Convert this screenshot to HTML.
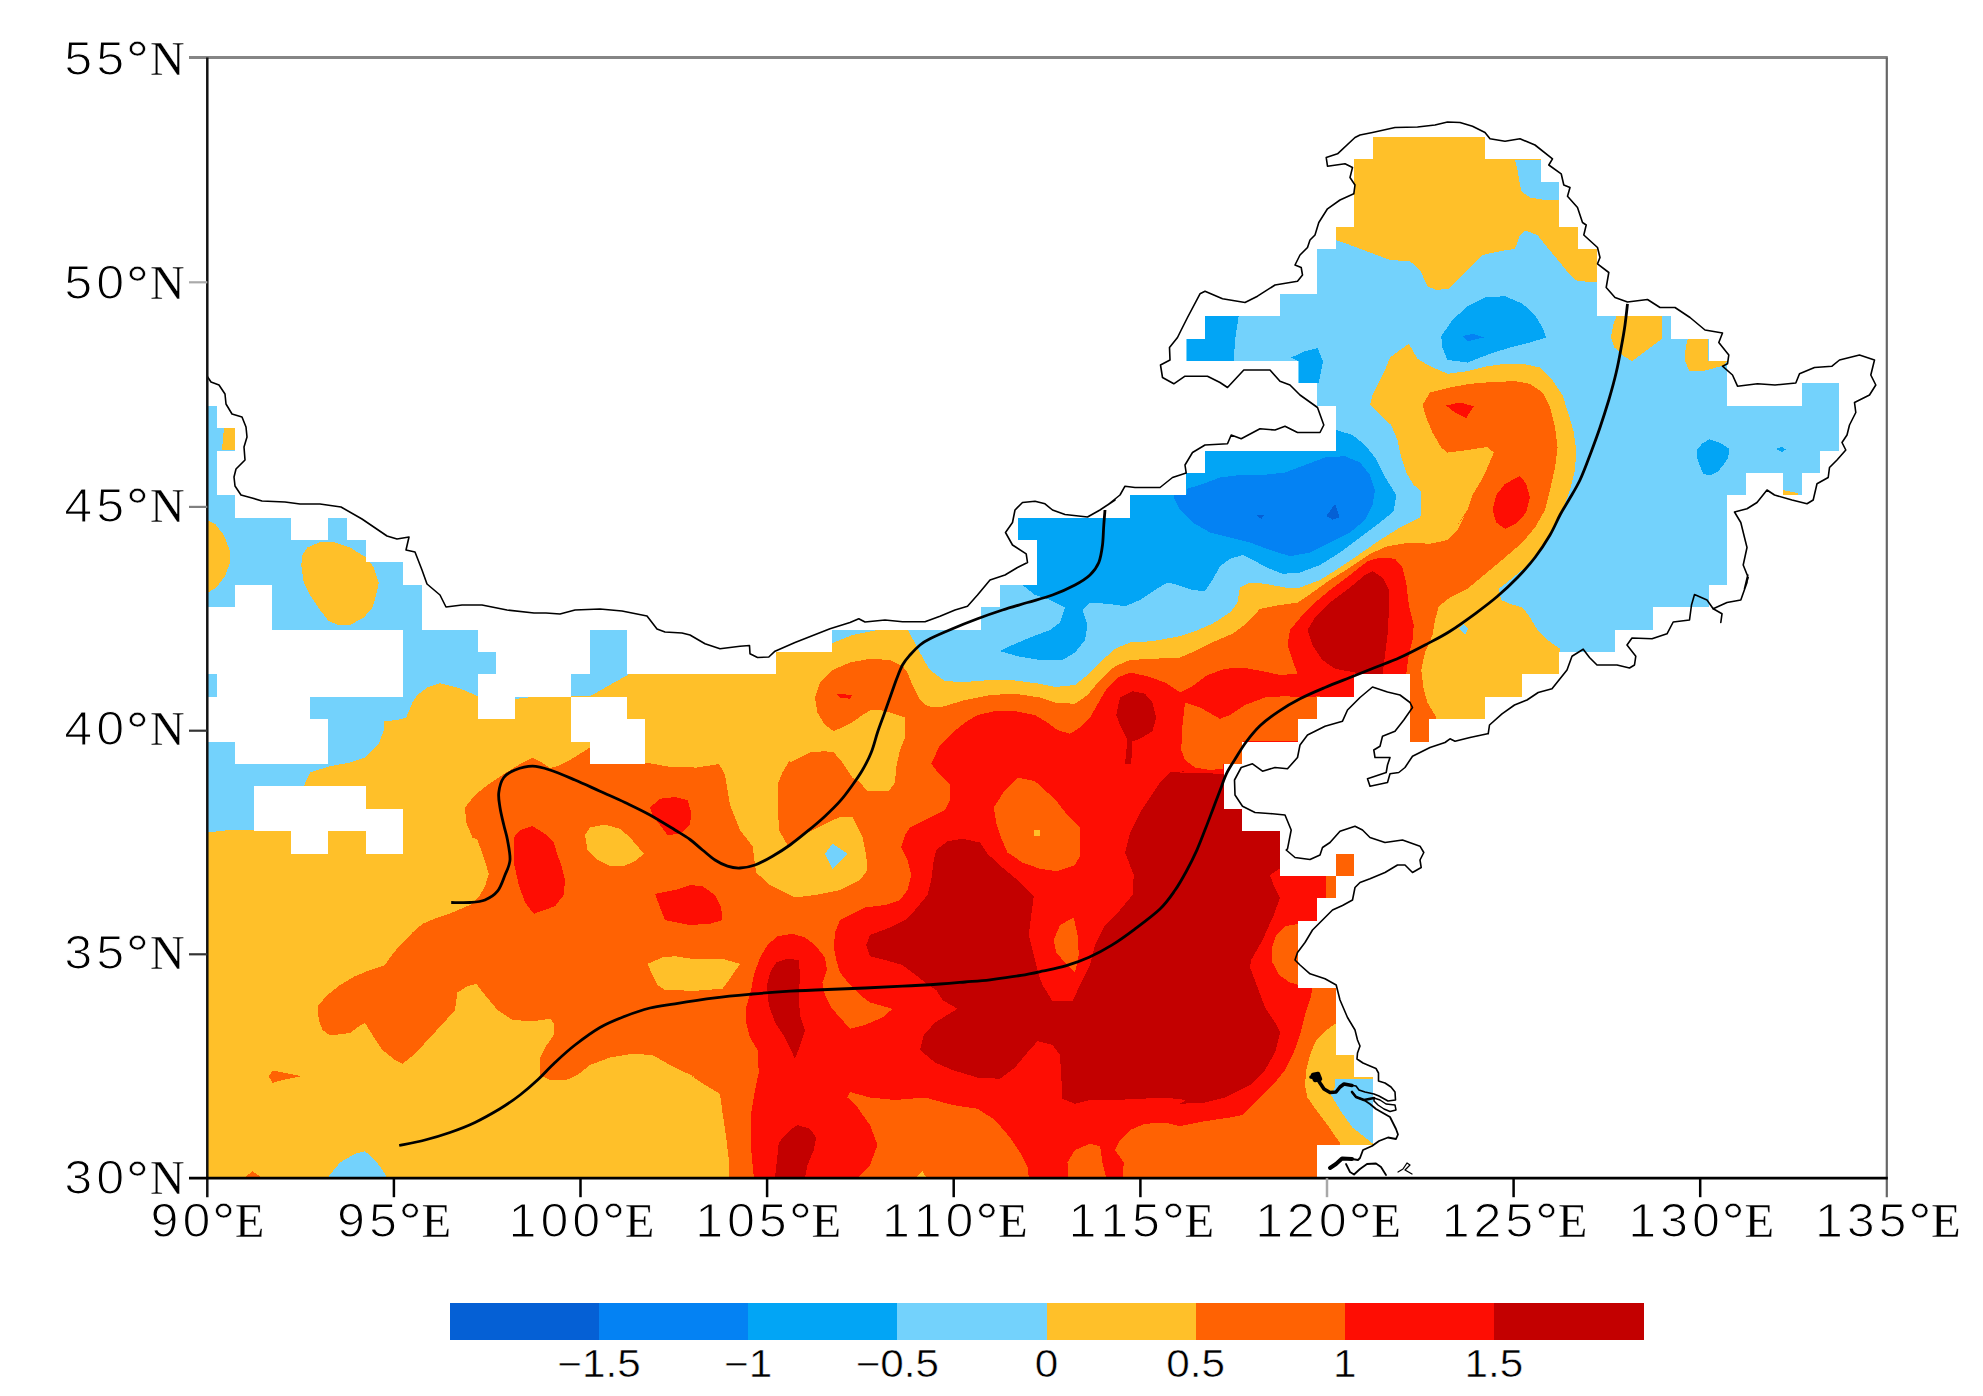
<!DOCTYPE html>
<html><head><meta charset="utf-8"><title>map</title>
<style>html,body{margin:0;padding:0;background:#fff}svg{display:block}.hl{font-family:"Liberation Sans",sans-serif;font-size:48.3px;fill:#000;stroke:#fff;stroke-width:1.2px;text-anchor:middle}.hd{font-family:"Liberation Sans",sans-serif;font-size:52px;fill:#000;stroke:#fff;stroke-width:0.5px;text-anchor:middle}.hs{font-family:"Liberation Serif",serif;font-size:49.5px;fill:#000;stroke:#fff;stroke-width:0.3px;text-anchor:middle}.cb{font-family:"Liberation Sans",sans-serif;fill:#000;stroke:#fff;stroke-width:0.5px;font-size:38.5px;text-anchor:middle}</style></head><body>
<svg width="1983" height="1396" viewBox="0 0 1983 1396">
<rect width="1983" height="1396" fill="#fff"/>
<defs><clipPath id="m"><path clip-rule="evenodd" d="M207 406 L217 406 L217 428 L235 428 L235 451 L217 451 L217 495 L235 495 L235 518 L291 518 L291 540 L328 540 L328 518 L347 518 L347 540 L366 540 L366 562 L403 562 L403 585 L422 585 L422 630 L478 630 L478 652 L496 652 L496 674 L478 674 L478 719 L515 719 L515 697 L571 697 L571 674 L590 674 L590 630 L627 630 L627 674 L776 674 L776 652 L832 652 L832 630 L981 630 L981 607 L1000 607 L1000 585 L1037 585 L1037 540 L1018 540 L1018 518 L1130 518 L1130 495 L1186 495 L1186 473 L1205 473 L1205 451 L1336 451 L1336 406 L1317 406 L1317 383 L1298 383 L1298 361 L1186 361 L1186 339 L1205 339 L1205 316 L1280 316 L1280 294 L1317 294 L1317 249 L1336 249 L1336 227 L1354 227 L1354 159 L1373 159 L1373 137 L1485 137 L1485 159 L1541 159 L1541 182 L1559 182 L1559 227 L1578 227 L1578 249 L1597 249 L1597 316 L1671 316 L1671 339 L1709 339 L1709 361 L1727 361 L1727 406 L1802 406 L1802 383 L1839 383 L1839 451 L1820 451 L1820 473 L1802 473 L1802 495 L1783 495 L1783 473 L1746 473 L1746 495 L1727 495 L1727 585 L1709 585 L1709 607 L1653 607 L1653 630 L1615 630 L1615 652 L1559 652 L1559 674 L1522 674 L1522 697 L1485 697 L1485 719 L1429 719 L1429 742 L1410 742 L1410 674 L1354 674 L1354 697 L1317 697 L1317 719 L1298 719 L1298 742 L1242 742 L1242 764 L1224 764 L1224 809 L1242 809 L1242 831 L1280 831 L1280 876 L1336 876 L1336 854 L1354 854 L1354 876 L1336 876 L1336 898 L1317 898 L1317 921 L1298 921 L1298 988 L1336 988 L1336 1055 L1354 1055 L1354 1077 L1373 1077 L1373 1145 L1317 1145 L1317 1178 L207 1178Z M235 585 L272 585 L272 630 L403 630 L403 697 L310 697 L310 719 L328 719 L328 764 L235 764 L235 742 L207 742 L207 697 L217 697 L217 674 L207 674 L207 607 L235 607Z M254 786 L366 786 L366 809 L403 809 L403 854 L366 854 L366 831 L328 831 L328 854 L291 854 L291 831 L254 831Z M571 697 L627 697 L627 719 L645 719 L645 764 L590 764 L590 742 L571 742Z"/></clipPath><clipPath id="f"><rect x="207.3" y="57.5" width="1679.5" height="1120.7"/></clipPath></defs>
<g clip-path="url(#f)"><g clip-path="url(#m)" shape-rendering="crispEdges">
<rect x="200" y="50" width="1700" height="1140" fill="#FFC029"/>
<polygon fill="#73D2FC" points="190.0,380.0 190.0,833.0 207.0,832.5 225.0,830.5 255.0,830.0 303.8,786.2 310.0,772.5 330.0,766.2 350.0,762.5 365.0,757.5 378.8,743.8 383.8,730.0 383.8,721.2 397.5,720.0 406.2,717.5 412.5,702.5 417.5,695.0 427.5,687.5 440.0,683.2 457.5,687.5 478.0,696.2 478.0,673.8 500.0,673.8 500.0,600.0 478.0,380.0"/>
<polygon fill="#73D2FC" points="571.2,673.8 590.0,673.8 590.0,628.8 627.5,628.8 627.5,675.0 590.0,696.2 571.2,696.2"/>
<polygon fill="#73D2FC" points="515.0,696.2 537.5,696.2 525.0,698.0 515.0,698.8"/>
<polygon fill="#FFC029" points="200.0,518.8 207.0,520.0 215.0,523.8 223.8,535.0 229.5,550.0 230.0,562.5 225.0,576.2 216.2,587.5 207.0,593.0 200.0,593.8"/>
<polygon fill="#FFC029" points="307.5,547.5 320.0,542.0 335.0,542.5 350.0,547.5 366.2,557.5 373.8,567.5 378.8,582.5 376.2,595.0 372.5,607.5 363.8,617.5 350.0,625.0 340.0,625.5 328.8,621.2 320.0,610.0 310.0,595.0 303.8,582.5 301.2,565.0 302.5,555.0"/>
<polygon fill="#FFC029" points="224.2,427.0 235.5,427.0 235.5,450.0 222.0,450.0 223.0,437.5"/>
<polygon fill="#73D2FC" points="328.8,1176.2 340.0,1162.5 355.0,1153.8 365.0,1151.2 375.0,1160.0 382.5,1170.0 386.2,1176.2 386.2,1190.0 328.8,1190.0"/>
<polygon fill="#73D2FC" points="1335.0,1078.8 1377.5,1078.8 1377.5,1147.5 1365.0,1137.5 1352.5,1127.5 1340.0,1110.0 1331.2,1095.0 1335.0,1087.5"/>
<polygon fill="#73D2FC" points="832.5,643.0 852.5,635.0 877.5,630.0 907.5,629.2 912.5,638.8 916.2,645.0 923.8,660.0 930.0,670.0 945.0,681.2 965.0,682.0 990.0,680.0 1015.0,680.5 1040.0,683.8 1055.0,687.0 1075.0,685.0 1087.5,675.0 1102.5,660.0 1115.0,648.8 1130.0,642.5 1152.5,641.2 1180.0,636.2 1195.0,631.2 1212.5,623.8 1230.0,612.5 1237.5,602.5 1240.0,587.5 1250.0,582.5 1265.0,583.8 1285.0,587.5 1300.0,587.5 1320.0,580.0 1340.0,567.5 1360.0,553.8 1380.0,540.0 1400.0,527.5 1420.0,517.5 1421.2,515.0 1421.2,491.2 1413.8,485.0 1406.2,472.5 1401.2,457.5 1397.5,440.0 1391.2,425.0 1380.0,415.0 1370.0,405.0 1372.5,395.0 1377.5,385.0 1385.0,370.0 1390.0,357.5 1400.0,350.0 1408.8,343.8 1417.5,358.8 1430.0,366.2 1447.5,373.8 1467.5,371.2 1487.5,366.2 1505.0,363.8 1525.0,364.2 1540.0,367.5 1552.5,380.0 1562.5,395.0 1568.8,415.0 1573.8,432.5 1576.2,450.0 1575.0,470.0 1570.0,490.0 1562.5,510.0 1552.5,532.5 1540.0,550.0 1525.0,567.5 1510.0,580.0 1498.8,588.8 1501.2,600.0 1510.0,603.8 1522.5,607.5 1530.0,617.5 1537.5,630.0 1547.5,640.0 1560.0,648.8 1560.0,651.2 1570.0,660.0 1900.0,660.0 1900.0,100.0 820.0,100.0 820.0,640.0"/>
<polygon fill="#FFC029" points="1335.8,240.0 1350.0,245.0 1370.0,252.5 1390.0,260.0 1410.0,261.2 1420.0,270.0 1427.5,286.2 1436.2,290.0 1448.8,288.8 1462.5,275.0 1482.5,255.0 1500.0,251.2 1515.0,248.8 1520.0,235.0 1525.0,230.5 1537.5,235.0 1547.5,247.5 1560.0,262.5 1570.0,275.0 1577.5,281.2 1596.2,282.0 1612.5,282.0 1612.5,100.0 1325.0,100.0 1325.0,240.0"/>
<polygon fill="#73D2FC" points="1515.0,160.0 1541.2,160.0 1541.2,181.2 1558.8,181.2 1558.8,200.0 1545.0,200.0 1530.0,197.5 1521.2,191.2 1518.8,177.5 1517.0,167.5"/>
<polygon fill="#FFC029" points="1617.0,314.5 1662.0,314.5 1662.0,338.8 1647.0,350.0 1632.0,361.2 1622.0,355.0 1614.5,347.5 1610.8,337.5 1613.2,325.0"/>
<polygon fill="#FFC029" points="1688.2,337.0 1708.2,337.0 1708.2,361.2 1727.0,361.2 1724.5,365.0 1712.0,368.8 1702.0,371.2 1689.5,371.2 1684.5,360.0 1685.8,347.5"/>
<polygon fill="#FFC029" points="1782.0,490.0 1798.2,493.0 1798.2,495.0 1782.0,495.0"/>
<polygon fill="#73D2FC" points="1458.8,628.8 1463.8,623.8 1468.0,628.8 1465.0,634.5"/>
<polygon fill="#73D2FC" points="825.0,853.8 832.5,843.8 847.5,853.8 832.5,868.8"/>
<polygon fill="#02A5F5" points="1022.5,585.0 1035.0,595.0 1050.0,600.0 1065.0,607.5 1060.0,622.5 1050.0,630.0 1030.0,637.5 1012.5,645.0 1000.0,651.2 1017.5,656.2 1040.0,660.0 1062.5,660.0 1075.0,652.5 1085.0,640.0 1087.5,625.0 1082.5,610.0 1090.0,602.5 1107.5,603.8 1125.0,606.2 1140.0,600.0 1155.0,590.0 1167.5,582.5 1177.5,585.0 1192.5,590.0 1205.0,591.2 1212.5,580.0 1220.0,566.2 1230.0,558.8 1242.5,555.0 1257.5,562.5 1270.0,568.8 1282.5,573.8 1300.0,572.5 1320.0,565.0 1340.0,552.5 1360.0,537.5 1380.0,522.5 1393.8,511.2 1396.2,495.0 1390.0,485.0 1382.5,472.5 1375.0,457.5 1365.0,445.0 1352.5,435.0 1336.2,430.0 1336.0,440.0 1010.0,440.0 1010.0,580.0"/>
<polygon fill="#02A5F5" points="1205.0,315.0 1238.8,315.0 1235.0,340.0 1233.8,361.2 1187.0,361.2 1187.0,338.8 1205.0,338.8"/>
<polygon fill="#02A5F5" points="1291.2,357.5 1305.0,351.2 1317.5,348.0 1323.0,361.2 1318.8,382.5 1298.8,382.5 1298.8,361.2"/>
<polygon fill="#02A5F5" points="1441.2,336.2 1452.5,320.0 1467.5,306.2 1485.0,297.5 1505.0,296.2 1522.5,303.8 1535.0,315.0 1542.5,327.5 1546.2,337.5 1530.0,342.5 1510.0,347.5 1490.0,353.8 1467.5,362.5 1447.5,360.0 1442.5,347.5"/>
<polygon fill="#02A5F5" points="1697.0,450.0 1702.0,443.8 1709.5,439.2 1719.5,442.5 1729.5,448.8 1728.2,457.5 1723.2,465.0 1718.2,471.2 1709.5,475.5 1703.2,473.8 1699.5,465.0 1697.0,457.5"/>
<polygon fill="#02A5F5" points="1775.8,449.0 1782.0,447.0 1785.8,449.5 1782.0,452.0"/>
<polygon fill="#0482F3" points="1187.0,488.8 1200.0,485.0 1220.0,477.5 1240.0,475.0 1262.5,475.0 1285.0,472.5 1305.0,465.0 1325.0,457.5 1345.0,456.2 1360.0,462.5 1370.0,475.0 1375.0,490.0 1372.5,505.0 1365.0,520.0 1350.0,532.5 1330.0,542.5 1310.0,552.5 1290.0,556.2 1270.0,550.0 1250.0,542.5 1230.0,537.5 1210.0,532.5 1192.5,522.5 1180.0,510.0 1173.8,497.5 1173.8,493.8 1187.0,493.8"/>
<polygon fill="#0482F3" points="1462.5,336.2 1472.5,333.8 1483.8,337.5 1467.5,341.2"/>
<polygon fill="#0560D5" points="1256.2,515.0 1265.0,514.5 1261.2,519.0"/>
<polygon fill="#0560D5" points="1326.2,516.2 1335.0,503.8 1339.5,517.5 1332.5,519.5"/>
<polygon fill="#FF6203" points="317.5,1006.2 327.5,995.0 340.0,985.0 355.0,976.2 370.0,970.0 385.0,965.0 390.0,957.5 400.0,945.0 412.5,932.5 422.5,923.8 437.5,917.5 452.5,912.5 470.0,905.0 480.0,895.0 485.0,886.2 488.8,873.8 483.8,857.5 477.5,840.0 472.5,837.5 466.2,822.5 465.0,807.5 475.0,795.0 487.5,785.0 502.5,775.0 522.5,762.5 532.5,757.5 542.5,763.0 550.0,768.0 557.5,766.2 570.0,760.0 580.0,753.8 590.0,747.5 590.0,762.5 645.0,762.5 669.3,766.7 696.4,767.6 719.0,764.0 724.8,774.2 730.0,805.0 740.0,830.0 752.5,846.2 756.2,872.5 770.0,885.0 795.0,897.5 815.0,895.0 840.0,890.0 860.0,880.0 867.5,870.0 866.2,855.0 862.5,837.5 852.5,817.5 840.0,817.0 825.0,823.8 807.5,832.5 787.5,845.0 778.8,830.0 777.5,785.0 782.5,772.5 790.0,760.0 790.0,762.5 810.0,752.5 825.0,751.2 833.8,752.5 842.5,762.5 852.5,777.5 860.0,782.5 867.5,791.2 888.8,791.2 895.0,782.5 896.2,767.5 900.0,750.0 905.0,737.5 905.0,717.5 890.0,712.5 880.0,710.0 870.0,710.5 862.5,715.0 850.0,723.8 833.8,731.2 825.0,725.0 817.5,712.5 815.0,697.5 820.0,682.5 832.5,670.0 850.0,662.5 870.0,658.8 890.0,660.0 902.5,666.2 907.5,672.5 912.5,685.0 920.0,700.0 927.5,706.2 940.0,707.5 965.0,700.0 990.0,695.0 1015.0,693.8 1040.0,697.5 1055.0,702.5 1075.0,703.8 1087.5,695.0 1100.0,680.0 1115.0,666.2 1130.0,660.0 1152.5,658.8 1180.0,657.5 1197.5,650.0 1215.0,641.2 1232.5,633.8 1247.5,622.5 1260.0,608.8 1280.0,605.0 1297.5,602.5 1312.5,592.5 1330.0,580.0 1350.0,567.5 1370.0,553.8 1387.5,546.2 1410.0,542.5 1430.0,543.8 1447.5,540.0 1457.5,530.0 1465.0,515.0 1457.5,525.0 1467.5,510.0 1472.5,495.0 1480.0,482.5 1487.5,467.5 1493.8,452.5 1487.5,447.0 1467.5,450.0 1447.5,452.5 1441.2,447.5 1432.5,432.5 1426.2,417.5 1422.5,405.0 1430.0,392.5 1450.0,387.5 1470.0,383.8 1492.5,382.0 1515.0,381.2 1530.0,383.8 1542.5,392.5 1550.0,407.5 1555.0,427.5 1557.5,447.5 1555.0,467.5 1550.0,490.0 1545.0,510.0 1535.0,527.5 1522.5,542.5 1505.0,557.5 1490.0,570.0 1475.0,582.5 1467.5,588.8 1450.0,597.5 1438.8,606.2 1435.0,620.0 1432.5,635.0 1425.0,652.5 1421.2,670.0 1423.8,690.0 1427.5,702.5 1435.0,715.0 1436.2,718.0 1436.2,750.0 1436.0,1000.0 1345.0,1020.0 1335.0,1023.8 1325.0,1031.2 1316.2,1040.0 1310.0,1055.0 1306.2,1070.0 1305.0,1085.0 1307.5,1097.5 1316.2,1110.0 1327.5,1125.0 1340.0,1143.0 1340.0,1200.0 728.0,1200.0 728.8,1177.5 728.8,1160.0 726.2,1137.5 722.5,1112.5 720.0,1093.8 705.0,1085.0 690.0,1075.0 695.8,1077.5 670.0,1065.0 652.5,1055.0 632.5,1053.8 610.0,1057.5 590.0,1065.0 577.5,1075.0 567.5,1079.5 550.0,1080.0 539.5,1075.0 540.5,1057.5 545.0,1047.5 553.8,1035.0 554.5,1023.8 550.0,1018.8 532.5,1021.2 512.5,1020.0 497.5,1010.0 485.0,995.0 476.2,983.8 467.5,986.2 457.5,992.5 455.0,1010.0 445.0,1021.2 430.0,1037.5 415.0,1053.8 402.5,1063.8 395.0,1060.0 382.5,1050.0 372.5,1035.0 365.0,1023.0 360.0,1025.5 350.0,1033.0 330.0,1035.5 322.5,1030.0 318.8,1020.0"/>
<polygon fill="#FF6203" points="268.8,1076.2 272.5,1070.5 282.5,1072.5 301.2,1076.2 282.5,1080.0 272.5,1083.0"/>
<polygon fill="#FF6203" points="246.2,1176.2 252.5,1171.2 260.0,1176.2 260.0,1190.0 246.2,1190.0"/>
<polygon fill="#FFC029" points="585.0,835.0 590.0,827.5 605.0,824.5 620.0,828.8 630.0,837.5 637.5,846.2 643.8,853.8 635.0,861.2 625.0,865.5 610.0,866.2 597.5,860.0 587.5,850.0"/>
<polygon fill="#FFC029" points="647.5,963.8 662.5,957.5 675.0,956.2 695.8,959.5 722.5,958.8 740.0,963.8 732.5,975.0 722.5,988.8 705.0,990.0 695.8,990.8 665.0,990.0 657.5,985.0 652.5,975.0"/>
<polygon fill="#FE0D03" points="931.2,763.8 940.0,745.0 952.5,732.5 965.0,722.5 977.5,715.0 997.5,710.5 1015.0,711.2 1035.0,715.0 1047.5,722.5 1057.5,730.0 1070.0,733.8 1080.0,727.5 1090.0,717.5 1100.0,700.0 1107.5,687.5 1117.5,677.5 1130.0,672.5 1147.5,676.2 1165.0,682.5 1180.0,692.5 1192.5,686.2 1207.5,675.0 1225.0,668.8 1242.5,667.5 1262.5,671.2 1280.0,675.0 1297.5,673.8 1292.5,660.0 1287.5,645.0 1290.0,630.0 1302.5,615.0 1315.0,602.5 1330.0,590.0 1350.0,575.0 1367.5,561.2 1380.0,557.5 1395.0,558.8 1402.5,567.5 1406.2,582.5 1408.8,605.0 1413.8,625.0 1412.5,640.0 1408.8,655.0 1406.2,674.2 1406.2,680.0 1330.0,775.0 1326.2,865.0 1326.2,898.0 1320.0,922.5 1298.8,923.8 1285.0,926.2 1276.2,935.0 1272.0,947.5 1272.5,962.5 1278.8,975.0 1290.0,982.5 1298.8,985.0 1299.0,988.0 1312.5,988.0 1310.0,1000.0 1305.0,1015.0 1300.0,1035.0 1293.8,1052.5 1285.0,1070.0 1275.0,1082.5 1260.0,1097.5 1242.5,1115.0 1230.0,1117.5 1205.0,1121.2 1180.0,1126.2 1165.0,1122.5 1145.0,1123.8 1130.0,1130.0 1120.0,1140.0 1115.0,1150.0 1123.8,1162.5 1122.5,1177.5 1122.5,1200.0 753.8,1200.0 753.8,1177.5 751.2,1150.0 751.2,1112.5 755.0,1090.0 758.8,1072.5 757.5,1050.0 750.0,1037.5 746.2,1022.5 746.2,1007.5 751.2,990.0 753.8,975.0 760.0,957.5 767.5,945.0 777.5,936.2 792.5,933.8 805.0,937.5 815.0,945.0 825.0,957.5 827.0,970.0 822.5,982.5 825.0,995.0 831.2,1007.5 840.0,1017.5 850.0,1028.8 865.0,1025.0 882.5,1017.5 892.5,1008.8 870.0,1002.5 860.0,995.0 850.0,985.0 840.0,972.5 836.2,960.0 833.8,947.5 835.0,932.5 840.0,920.0 850.0,915.0 865.0,907.5 885.0,905.0 900.0,900.0 907.5,890.0 911.2,875.0 907.5,860.0 901.2,847.5 905.0,835.0 910.0,827.5 925.0,820.0 945.0,810.0 950.0,800.0 950.0,785.0 940.0,775.0"/>
<polygon fill="#FF6203" points="1185.0,702.5 1200.0,707.5 1220.0,718.8 1230.0,715.0 1245.0,705.0 1265.0,697.5 1285.0,696.2 1305.0,697.5 1320.0,696.2 1320.0,720.0 1300.0,720.0 1300.0,741.2 1242.5,741.2 1242.5,763.8 1223.0,763.8 1223.0,768.8 1210.0,770.0 1195.0,767.5 1185.0,760.0 1181.2,750.0 1182.5,725.0"/>
<polygon fill="#FF6203" points="993.8,807.5 1005.0,790.0 1017.5,777.5 1035.0,781.2 1047.5,792.5 1057.5,802.5 1067.5,815.0 1080.0,827.5 1080.5,855.0 1075.0,865.0 1057.5,871.2 1040.0,868.8 1022.5,862.5 1007.5,852.5 1000.0,835.0 996.2,822.5"/>
<polygon fill="#FFC029" points="1033.8,830.0 1040.0,830.0 1040.0,836.2 1033.8,836.2"/>
<polygon fill="#FF6203" points="1053.8,940.0 1060.0,925.0 1073.8,917.5 1077.5,935.0 1078.8,955.0 1075.0,972.5 1065.0,962.5 1056.2,952.5"/>
<polygon fill="#FF6203" points="857.5,1177.5 870.0,1165.0 877.5,1145.0 870.0,1125.0 857.5,1107.5 847.5,1097.5 850.0,1092.0 870.0,1097.5 895.0,1100.0 925.0,1097.5 952.5,1105.0 977.5,1108.8 995.0,1120.0 1010.0,1137.5 1020.0,1152.5 1027.5,1167.5 1028.8,1177.5 1028.8,1200.0 857.5,1200.0"/>
<polygon fill="#FF6203" points="1067.5,1177.5 1067.5,1162.5 1075.0,1150.0 1090.0,1143.8 1100.0,1146.2 1102.5,1162.5 1106.2,1177.5 1106.2,1200.0 1067.5,1200.0"/>
<polygon fill="#FFC029" points="916.2,1177.5 922.5,1171.2 926.2,1177.5 926.2,1182.5 916.2,1182.5"/>
<polygon fill="#FE0D03" points="513.8,837.5 520.0,830.0 532.5,826.2 545.0,833.8 553.8,842.5 557.5,855.0 561.2,865.0 565.0,880.0 563.8,895.0 555.0,906.2 533.8,913.8 525.0,902.5 518.8,885.0 513.8,862.5"/>
<polygon fill="#FE0D03" points="655.0,893.8 675.0,890.0 690.0,885.0 702.5,886.2 715.0,895.0 721.2,907.5 722.5,920.0 710.0,923.8 690.0,925.0 695.8,926.2 665.0,920.0 660.0,907.5"/>
<polygon fill="#FE0D03" points="650.0,807.5 660.0,798.8 675.0,797.0 687.5,800.0 691.2,812.5 690.0,825.0 680.0,833.8 667.5,835.0 660.0,825.0 652.5,815.0"/>
<polygon fill="#FE0D03" points="836.2,693.8 852.5,695.0 850.0,698.8 840.0,697.5"/>
<polygon fill="#FE0D03" points="1446.2,405.5 1460.0,402.5 1473.8,406.2 1466.2,418.0 1455.0,412.5"/>
<polygon fill="#FE0D03" points="1492.5,510.0 1496.2,495.0 1505.0,483.8 1520.0,476.2 1526.2,483.8 1530.0,497.5 1526.2,512.5 1517.5,522.5 1505.0,528.8 1496.2,522.5"/>
<polygon fill="#C30000" points="866.2,945.0 870.0,935.0 890.0,927.5 905.0,920.0 915.0,910.0 927.5,895.0 931.2,880.0 933.8,860.0 936.2,850.0 947.5,841.2 962.5,838.8 980.0,842.5 987.5,853.8 1002.5,867.5 1017.5,880.0 1033.8,896.2 1031.2,915.0 1028.8,935.0 1033.8,955.0 1038.8,975.0 1042.5,985.0 1052.5,1001.2 1072.5,1001.2 1080.0,985.0 1090.0,965.0 1095.0,945.0 1105.0,925.0 1120.0,910.0 1132.5,895.0 1133.8,875.0 1125.0,852.5 1130.0,832.5 1140.0,812.5 1150.0,797.5 1160.0,782.5 1170.0,772.5 1185.8,771.2 1180.0,772.5 1223.0,773.8 1242.5,773.8 1242.5,800.0 1285.0,835.0 1285.0,865.0 1270.0,875.0 1273.8,886.2 1280.0,897.5 1273.8,915.0 1262.5,940.0 1251.2,960.0 1250.0,967.5 1257.5,987.5 1265.0,1007.5 1275.0,1022.5 1280.0,1032.5 1275.0,1052.5 1265.0,1070.0 1250.0,1085.0 1225.0,1097.5 1205.0,1102.5 1180.0,1103.8 1185.8,1100.0 1165.0,1097.5 1140.0,1098.8 1115.0,1100.0 1090.0,1100.0 1075.0,1103.8 1062.5,1098.8 1061.2,1075.0 1060.0,1055.0 1052.5,1045.0 1037.5,1041.2 1027.5,1052.5 1015.0,1067.5 1000.0,1078.8 977.5,1077.5 952.5,1070.0 935.0,1062.5 920.0,1050.0 923.8,1035.0 935.0,1022.5 957.5,1008.8 942.5,1000.0 936.2,990.0 925.0,982.5 912.5,972.5 902.5,965.0 885.0,960.0 870.0,956.2 866.2,945.0"/>
<polygon fill="#C30000" points="1307.5,630.0 1315.0,617.5 1330.0,602.5 1350.0,587.5 1365.0,575.0 1372.5,571.2 1382.5,577.5 1388.8,590.0 1388.8,612.5 1387.5,635.0 1385.0,655.0 1382.5,675.0 1363.8,675.0 1355.0,672.5 1335.0,668.8 1322.5,660.0 1312.5,645.0"/>
<polygon fill="#C30000" points="1120.0,697.5 1132.5,691.2 1145.0,693.8 1152.5,702.5 1156.2,717.5 1152.5,731.2 1140.0,738.8 1132.5,741.2 1131.2,763.8 1125.0,763.8 1127.5,740.0 1120.0,725.0 1116.2,715.0"/>
<polygon fill="#C30000" points="770.0,972.5 776.2,962.5 787.5,958.8 798.8,960.0 800.0,975.0 798.8,997.5 800.0,1015.0 805.0,1030.0 801.2,1042.5 795.0,1058.8 785.0,1037.5 775.0,1022.5 768.8,1005.0 767.0,985.0"/>
<polygon fill="#C30000" points="775.0,1177.5 777.5,1155.0 778.8,1142.5 790.0,1130.0 797.5,1125.0 810.0,1128.8 816.2,1137.5 813.8,1150.0 807.5,1165.0 805.0,1177.5 805.0,1200.0 775.0,1200.0"/>
</g>
<g fill="none" stroke="#000" stroke-linejoin="round" stroke-linecap="round">
<polyline stroke-width="1.6" points="207.0,376.0 211.0,382.0 219.0,385.0 225.0,394.0 226.0,404.0 232.0,414.0 242.0,417.0 246.0,427.0 247.0,437.0 244.0,447.0 245.0,460.0 236.0,469.0 234.0,477.0 235.0,486.0 241.0,495.0 252.0,498.0 262.0,501.0 285.0,502.0 300.0,504.0 320.0,504.0 341.0,507.0 362.0,519.0 387.0,536.0 397.0,539.0 409.0,537.0 406.0,550.0 415.0,552.0 422.0,570.0 427.0,584.0 440.0,595.0 446.0,607.0 462.0,605.0 482.0,605.0 507.0,610.0 534.0,613.0 546.0,613.0 560.0,614.0 575.0,610.0 600.0,609.0 622.0,611.0 647.0,616.0 657.0,629.0 665.0,632.0 682.0,633.0 690.0,635.0 705.0,643.8 720.0,648.8 740.0,646.2 749.5,645.5 750.0,653.8 757.5,657.5 768.8,657.0 775.0,651.2 795.0,642.5 830.0,628.8 850.0,622.5 858.8,618.8 865.0,622.0 885.0,620.0 902.5,621.8 925.0,621.8 940.0,616.2 955.0,610.0 967.5,606.2 977.5,595.0 990.0,580.0 1005.0,575.0 1017.5,567.5 1027.5,562.5 1026.2,553.8 1012.5,545.0 1005.5,532.5 1012.5,522.5 1015.0,510.0 1022.5,502.5 1035.0,501.2 1045.0,503.8 1052.5,510.0 1065.0,514.5 1087.5,517.0 1100.0,510.0 1115.0,500.0 1107.5,505.0 1120.0,495.0 1125.0,486.2 1135.0,487.5 1160.0,487.5 1172.5,477.5 1186.2,473.0 1185.0,465.0 1192.5,452.5 1205.0,445.0 1227.5,443.8 1231.2,435.0 1241.2,438.8 1260.0,428.8 1275.0,430.0 1285.0,426.2 1297.5,432.5 1320.0,432.5 1323.8,425.0 1317.5,407.5 1300.0,395.0 1290.0,385.0 1280.0,381.2 1270.0,370.0 1243.8,370.0 1227.5,387.5 1220.0,382.5 1207.5,376.2 1185.0,376.2 1173.8,383.8 1162.5,377.5 1160.5,365.0 1170.0,360.0 1169.5,347.5 1177.5,337.5 1181.2,330.0 1187.5,317.5 1200.0,293.8 1205.0,291.2 1222.5,298.8 1245.0,302.5 1257.5,296.2 1275.0,285.0 1297.5,281.2 1302.5,275.0 1301.2,267.5 1295.0,265.0 1300.0,255.0 1307.5,247.5 1310.0,240.0 1315.0,235.0 1318.8,222.5 1327.5,208.8 1340.0,200.0 1353.8,193.8 1355.0,185.0 1350.0,177.5 1352.5,167.5 1345.0,163.8 1327.5,166.2 1326.2,157.5 1337.5,153.8 1355.0,137.5 1360.0,135.0 1372.5,132.5 1395.0,127.5 1417.5,127.0 1435.0,125.0 1447.5,122.0 1460.0,122.5 1472.5,126.2 1485.0,132.5 1490.0,138.8 1505.0,141.2 1520.0,138.8 1535.0,145.0 1552.5,158.8 1548.8,165.0 1561.2,173.8 1563.8,185.0 1570.0,187.5 1567.5,196.2 1577.5,207.5 1582.5,222.5 1586.2,225.0 1583.8,235.0 1597.5,247.5 1600.0,257.5 1597.5,263.8 1608.8,272.5 1606.2,287.5 1615.0,297.5 1627.5,302.0 1647.5,299.5 1660.0,307.5 1675.0,307.5 1690.0,317.5 1705.0,330.0 1722.5,333.0 1718.8,342.5 1728.8,355.0 1727.5,363.8 1722.5,366.2 1732.5,375.0 1737.5,386.2 1757.5,383.8 1775.0,385.0 1795.8,383.0 1799.5,373.8 1814.5,367.5 1832.0,366.2 1839.5,360.0 1859.5,355.0 1874.5,360.0 1870.8,375.0 1875.8,385.0 1869.5,395.0 1854.5,402.5 1855.8,412.5 1849.5,425.0 1847.0,435.0 1842.0,442.5 1845.8,450.0 1837.0,460.0 1829.5,467.5 1828.2,477.5 1817.0,483.8 1813.2,500.0 1807.0,503.8 1792.0,500.0 1774.5,495.0 1767.0,490.0 1757.0,502.5 1747.0,508.8 1734.5,512.0 1740.8,522.5 1744.5,537.5 1747.0,547.5 1743.2,565.0 1748.2,577.5 1744.5,588.8 1747.8,575.0 1747.0,582.5 1740.8,600.0 1727.0,602.5 1713.2,608.8 1707.0,600.0 1694.5,594.5 1691.5,605.0 1689.5,620.0 1673.2,622.0 1667.0,633.8 1652.0,638.8 1632.0,638.0 1627.0,645.0 1635.8,656.2 1634.5,665.0 1629.5,668.0 1617.0,665.0 1597.0,665.0 1589.5,657.5 1583.2,649.2 1572.0,656.2 1567.0,670.0 1552.0,688.8 1538.2,692.5 1527.0,700.0 1514.5,705.0 1502.0,713.8 1489.5,725.0 1488.2,733.8 1487.5,733.8 1470.0,737.5 1455.0,741.2 1450.0,738.8 1445.0,742.5 1430.0,747.5 1412.5,756.2 1405.0,767.5 1398.8,772.5 1390.0,773.8 1387.5,782.5 1370.0,786.2 1367.5,778.8 1386.2,772.5 1387.5,765.0 1390.0,757.5 1375.0,757.5 1373.8,750.0 1380.0,746.2 1382.5,736.2 1395.0,731.2 1403.8,720.0 1412.5,707.5 1410.0,702.5 1400.0,695.0 1387.5,692.0 1372.5,687.0 1360.0,697.5 1347.5,710.0 1342.5,721.2 1325.0,726.2 1307.5,735.0 1300.0,745.0 1297.5,757.5 1287.5,768.8 1275.0,767.5 1262.5,771.2 1252.5,763.8 1241.2,767.5 1234.5,780.0 1235.0,795.0 1242.5,806.2 1255.0,812.5 1272.5,813.8 1285.0,815.0 1291.2,830.0 1287.5,848.8 1286.2,850.0 1295.0,857.5 1310.0,859.5 1320.0,855.0 1322.5,847.5 1330.0,842.5 1340.0,831.2 1355.0,826.2 1362.5,830.0 1370.0,837.5 1385.0,842.5 1402.5,840.0 1420.0,846.2 1423.8,852.5 1420.0,860.0 1421.2,867.5 1412.5,872.5 1405.0,865.0 1397.5,865.0 1385.0,872.5 1370.0,878.8 1360.0,882.5 1355.0,887.5 1352.5,900.0 1342.5,905.5 1332.5,910.0 1322.5,920.0 1312.5,930.0 1305.0,942.5 1297.5,952.5 1295.0,960.0 1300.0,965.0 1310.0,973.8 1325.0,978.8 1336.2,985.0 1340.0,1000.0 1347.5,1017.5 1355.0,1030.0 1357.5,1040.0 1360.0,1046.0 1357.5,1053.0 1357.0,1059.0 1363.0,1063.0 1370.0,1066.0 1376.0,1068.5 1378.5,1073.0 1378.5,1081.0 1385.0,1083.0 1391.0,1087.0 1395.0,1092.0 1395.5,1100.0 1388.0,1101.0 1379.0,1096.0 1374.0,1094.0 1365.0,1092.0 1359.0,1090.0 1356.0,1086.0 1350.0,1085.0 1344.0,1084.0 1340.0,1087.0 1336.0,1092.0 1330.0,1092.5 1324.0,1089.0 1320.0,1083.0 1317.0,1078.0 1311.0,1077.0"/>
<polyline stroke-width="1.6" points="1713.2,608.8 1722.0,613.8 1720.8,622.5"/>
<polyline stroke-width="1.8" points="1352.0,1092.0 1356.0,1097.0 1364.0,1100.0 1370.0,1104.0 1376.0,1109.0 1383.0,1113.0 1390.0,1117.0 1393.0,1123.0 1396.0,1129.0 1398.0,1134.5 1396.0,1139.0 1388.0,1137.5 1379.0,1141.0 1372.0,1146.0 1363.0,1150.0 1360.0,1158.0 1358.0,1160.0 1352.0,1159.0 1342.0,1158.5 1336.0,1164.0 1330.0,1168.0"/>
<polyline stroke-width="1.5" points="1374.0,1098.0 1380.0,1100.0 1386.0,1104.0 1395.0,1105.0 1396.0,1110.0 1390.0,1111.5 1384.0,1109.0 1378.0,1105.0 1374.0,1101.0 1374.0,1098.0"/>
<polyline stroke-width="1.8" points="1346.0,1164.0 1350.0,1172.0 1354.0,1174.5 1360.0,1169.0 1367.0,1164.0 1376.0,1163.5 1381.0,1167.0 1386.0,1175.0"/>
<polyline stroke-width="1.3" points="1398.0,1172.0 1403.0,1169.0 1407.0,1163.0 1410.0,1165.0 1405.0,1170.0 1412.0,1174.0"/>
<polyline stroke-width="3.6" points="1311.0,1077.0 1317.0,1078.0 1320.0,1083.0 1324.0,1089.0 1330.0,1092.5 1336.0,1092.0 1340.0,1087.0 1344.0,1084.0 1352.0,1085.5"/>
<polyline stroke-width="4.5" points="1313.0,1075.0 1318.0,1074.0 1320.0,1079.0 1315.0,1080.0 1313.0,1075.0"/>
<polyline stroke-width="4.0" points="1330.0,1168.0 1336.0,1164.0 1342.0,1158.5 1352.0,1159.0"/>
<polyline stroke-width="2.6" points="1352.0,1092.0 1356.0,1097.0 1364.0,1100.0 1374.0,1098.0"/>
<path stroke-width="2.8" stroke-linecap="butt" d="M451.2 902.5 C454.4 902.5 464.4 902.9 470.0 902.5 C475.6 902.1 480.4 901.9 485.0 900.0 C489.6 898.1 494.2 895.4 497.5 891.2 C500.8 887.1 502.9 880.2 505.0 875.0 C507.1 869.8 509.6 865.8 510.0 860.0 C510.4 854.2 508.5 845.8 507.5 840.0 C506.5 834.2 505.0 830.4 503.8 825.0 C502.5 819.6 500.8 812.9 500.0 807.5 C499.2 802.1 498.1 797.5 498.8 792.5 C499.4 787.5 501.0 781.2 503.8 777.5 C506.5 773.8 510.2 771.9 515.0 770.0 C519.8 768.1 526.7 766.2 532.5 766.2 C538.3 766.2 542.9 767.7 550.0 770.0 C557.1 772.3 566.7 776.5 575.0 780.0 C583.3 783.5 591.7 787.5 600.0 791.2 C608.3 795.0 616.7 798.5 625.0 802.5 C633.3 806.5 641.7 810.4 650.0 815.0 C658.3 819.6 668.3 825.9 675.0 830.0 C681.7 834.1 685.4 836.2 690.0 839.5 C694.6 842.8 698.3 846.6 702.5 850.0 C706.7 853.4 710.8 857.3 715.0 860.0 C719.2 862.7 723.3 864.9 727.5 866.2 C731.7 867.6 735.4 868.2 740.0 868.0 C744.6 867.8 749.6 867.0 755.0 865.0 C760.4 863.0 766.7 859.6 772.5 856.2 C778.3 852.9 784.2 849.2 790.0 845.0 C795.8 840.8 801.7 836.0 807.5 831.2 C813.3 826.5 819.6 821.2 825.0 816.2 C830.4 811.2 835.4 806.5 840.0 801.2 C844.6 796.0 848.8 790.2 852.5 785.0 C856.2 779.8 859.4 775.4 862.5 770.0 C865.6 764.6 868.8 758.8 871.2 752.5 C873.8 746.2 875.4 738.8 877.5 732.5 C879.6 726.2 881.7 720.8 883.8 715.0 C885.8 709.2 887.9 703.3 890.0 697.5 C892.1 691.7 894.2 685.4 896.2 680.0 C898.3 674.6 900.2 669.2 902.5 665.0 C904.8 660.8 907.1 658.3 910.0 655.0 C912.9 651.7 916.7 647.7 920.0 645.0 C923.3 642.3 924.6 641.5 930.0 638.8 C935.4 636.0 944.6 632.1 952.5 628.8 C960.4 625.4 969.2 621.9 977.5 618.8 C985.8 615.6 994.2 612.7 1002.5 610.0 C1010.8 607.3 1019.2 605.0 1027.5 602.5 C1035.8 600.0 1044.6 597.9 1052.5 595.0 C1060.4 592.1 1068.8 588.3 1075.0 585.0 C1081.2 581.7 1086.0 578.8 1090.0 575.0 C1094.0 571.2 1096.7 567.5 1098.8 562.5 C1100.8 557.5 1101.7 551.2 1102.5 545.0 C1103.3 538.8 1103.3 530.8 1103.8 525.0 C1104.2 519.2 1104.8 512.5 1105.0 510.0"/>
<path stroke-width="2.8" stroke-linecap="butt" d="M399.2 1145.5 C403.5 1144.6 416.5 1142.2 425.0 1140.0 C433.5 1137.8 441.7 1135.4 450.0 1132.5 C458.3 1129.6 466.7 1126.5 475.0 1122.5 C483.3 1118.5 492.5 1113.3 500.0 1108.8 C507.5 1104.2 513.8 1099.8 520.0 1095.0 C526.2 1090.2 531.7 1085.4 537.5 1080.0 C543.3 1074.6 548.8 1068.3 555.0 1062.5 C561.2 1056.7 567.5 1050.8 575.0 1045.0 C582.5 1039.2 591.7 1032.3 600.0 1027.5 C608.3 1022.7 616.7 1019.5 625.0 1016.2 C633.3 1013.0 641.7 1010.1 650.0 1008.0 C658.3 1005.9 664.2 1005.5 675.0 1003.8 C685.8 1002.0 702.1 999.4 715.0 997.8 C727.9 996.1 740.0 995.1 752.5 994.0 C765.0 992.9 777.5 992.0 790.0 991.2 C802.5 990.5 815.0 990.0 827.5 989.5 C840.0 989.0 852.5 988.5 865.0 988.0 C877.5 987.5 890.0 986.9 902.5 986.2 C915.0 985.6 929.6 984.7 940.0 984.0 C950.4 983.3 956.7 982.7 965.0 982.0 C973.3 981.3 980.7 980.9 990.0 979.8 C999.3 978.6 1012.0 976.9 1021.0 975.4 C1030.0 973.9 1036.1 972.5 1043.7 970.9 C1051.3 969.3 1058.8 967.9 1066.4 965.6 C1074.0 963.3 1081.5 960.6 1089.1 957.2 C1096.7 953.8 1104.2 949.8 1111.8 945.1 C1119.4 940.5 1126.5 935.3 1134.5 929.3 C1142.5 923.3 1153.2 915.5 1160.0 909.0 C1166.8 902.5 1170.6 896.6 1175.0 890.3 C1179.4 884.0 1182.8 877.8 1186.5 871.0 C1190.2 864.2 1193.8 856.9 1197.0 849.8 C1200.2 842.7 1202.8 835.4 1205.5 828.6 C1208.2 821.8 1210.5 815.5 1213.0 808.9 C1215.5 802.3 1218.2 795.3 1220.5 789.3 C1222.8 783.2 1224.2 778.1 1227.0 772.6 C1229.8 767.1 1233.8 761.2 1237.0 756.0 C1240.2 750.8 1242.7 746.5 1246.5 741.5 C1250.3 736.5 1254.8 730.8 1260.0 725.8 C1265.2 720.8 1271.3 716.3 1278.0 711.8 C1284.7 707.3 1292.2 702.8 1300.0 698.8 C1307.8 694.7 1316.7 691.0 1325.0 687.5 C1333.3 684.0 1341.7 680.8 1350.0 677.5 C1358.3 674.2 1366.7 670.8 1375.0 667.5 C1383.3 664.2 1391.7 661.2 1400.0 657.5 C1408.3 653.8 1416.7 649.4 1425.0 645.0 C1433.3 640.6 1441.7 636.5 1450.0 631.2 C1458.3 626.0 1467.1 619.6 1475.0 613.8 C1482.9 607.9 1490.4 602.3 1497.5 596.2 C1504.6 590.2 1511.2 584.0 1517.5 577.5 C1523.8 571.0 1529.6 564.6 1535.0 557.5 C1540.4 550.4 1545.8 542.1 1550.0 535.0 C1554.2 527.9 1556.9 520.8 1560.0 515.0 C1563.1 509.2 1565.4 505.8 1568.8 500.0 C1572.1 494.2 1576.5 487.5 1580.0 480.0 C1583.5 472.5 1586.7 463.8 1590.0 455.0 C1593.3 446.2 1596.9 436.7 1600.0 427.5 C1603.1 418.3 1606.0 409.2 1608.8 400.0 C1611.5 390.8 1614.2 381.2 1616.2 372.5 C1618.3 363.8 1619.8 355.4 1621.2 347.5 C1622.7 339.6 1624.0 332.3 1625.0 325.0 C1626.0 317.7 1627.1 307.3 1627.5 303.8"/>
</g></g>
<g fill="none" stroke-width="2.2">
<line x1="189" y1="57.5" x2="1887.8" y2="57.5" stroke="#858585" stroke-width="3"/>
<line x1="1886.8" y1="57.5" x2="1886.8" y2="1197.2" stroke="#666"/>
<line x1="207.3" y1="57.5" x2="207.3" y2="1197.2" stroke="#111" stroke-width="2.5"/>
<line x1="189" y1="1178.2" x2="1887.8" y2="1178.2" stroke="#000" stroke-width="2.8"/>
<line x1="189" y1="954.3" x2="207.3" y2="954.3" stroke="#333"/>
<line x1="189" y1="730.7" x2="207.3" y2="730.7" stroke="#333"/>
<line x1="189" y1="506.9" x2="207.3" y2="506.9" stroke="#808080"/>
<line x1="189" y1="282.3" x2="207.3" y2="282.3" stroke="#aaa"/>
<line x1="393.9" y1="1178.2" x2="393.9" y2="1197.2" stroke="#000" stroke-width="2.5"/>
<line x1="580.5" y1="1178.2" x2="580.5" y2="1197.2" stroke="#000" stroke-width="2.5"/>
<line x1="767.1" y1="1178.2" x2="767.1" y2="1197.2" stroke="#000" stroke-width="2.5"/>
<line x1="953.7" y1="1178.2" x2="953.7" y2="1197.2" stroke="#000" stroke-width="2.5"/>
<line x1="1140.4" y1="1178.2" x2="1140.4" y2="1197.2" stroke="#000" stroke-width="2.5"/>
<line x1="1327.0" y1="1178.2" x2="1327.0" y2="1197.2" stroke="#a8a8a8" stroke-width="2.5"/>
<line x1="1513.6" y1="1178.2" x2="1513.6" y2="1197.2" stroke="#000" stroke-width="2.5"/>
<line x1="1700.2" y1="1178.2" x2="1700.2" y2="1197.2" stroke="#000" stroke-width="2.5"/>
</g>
<text transform="translate(0,1194.0) scale(1.04,1)"><tspan class="hl" x="75.3 105.9">30</tspan><tspan class="hd" x="132.2" dy="3.6" textLength="22.4" lengthAdjust="spacingAndGlyphs">°</tspan><tspan class="hs" x="160.9" dy="-3.6" textLength="33.3" lengthAdjust="spacingAndGlyphs">N</tspan></text>
<text transform="translate(0,968.7) scale(1.04,1)"><tspan class="hl" x="75.3 105.9">35</tspan><tspan class="hd" x="132.2" dy="3.6" textLength="22.4" lengthAdjust="spacingAndGlyphs">°</tspan><tspan class="hs" x="160.9" dy="-3.6" textLength="33.3" lengthAdjust="spacingAndGlyphs">N</tspan></text>
<text transform="translate(0,745.0) scale(1.04,1)"><tspan class="hl" x="75.3 105.9">40</tspan><tspan class="hd" x="132.2" dy="3.6" textLength="22.4" lengthAdjust="spacingAndGlyphs">°</tspan><tspan class="hs" x="160.9" dy="-3.6" textLength="33.3" lengthAdjust="spacingAndGlyphs">N</tspan></text>
<text transform="translate(0,521.5) scale(1.04,1)"><tspan class="hl" x="75.3 105.9">45</tspan><tspan class="hd" x="132.2" dy="3.6" textLength="22.4" lengthAdjust="spacingAndGlyphs">°</tspan><tspan class="hs" x="160.9" dy="-3.6" textLength="33.3" lengthAdjust="spacingAndGlyphs">N</tspan></text>
<text transform="translate(0,299.0) scale(1.04,1)"><tspan class="hl" x="75.3 105.9">50</tspan><tspan class="hd" x="132.2" dy="3.6" textLength="22.4" lengthAdjust="spacingAndGlyphs">°</tspan><tspan class="hs" x="160.9" dy="-3.6" textLength="33.3" lengthAdjust="spacingAndGlyphs">N</tspan></text>
<text transform="translate(0,74.5) scale(1.04,1)"><tspan class="hl" x="75.3 105.9">55</tspan><tspan class="hd" x="132.2" dy="3.6" textLength="22.4" lengthAdjust="spacingAndGlyphs">°</tspan><tspan class="hs" x="160.9" dy="-3.6" textLength="33.3" lengthAdjust="spacingAndGlyphs">N</tspan></text>
<text transform="translate(0,1236.8) scale(1.04,1)"><tspan class="hl" x="158.2 188.8">90</tspan><tspan class="hd" x="215.1" dy="3.6" textLength="22.4" lengthAdjust="spacingAndGlyphs">°</tspan><tspan class="hs" x="240.1" dy="-3.6" textLength="28.6" lengthAdjust="spacingAndGlyphs">E</tspan></text>
<text transform="translate(0,1236.8) scale(1.04,1)"><tspan class="hl" x="337.6 368.2">95</tspan><tspan class="hd" x="394.5" dy="3.6" textLength="22.4" lengthAdjust="spacingAndGlyphs">°</tspan><tspan class="hs" x="419.5" dy="-3.6" textLength="28.6" lengthAdjust="spacingAndGlyphs">E</tspan></text>
<text transform="translate(0,1236.8) scale(1.04,1)"><tspan class="hl" x="502.5 533.1 563.7">100</tspan><tspan class="hd" x="590.0" dy="3.6" textLength="22.4" lengthAdjust="spacingAndGlyphs">°</tspan><tspan class="hs" x="615.0" dy="-3.6" textLength="28.6" lengthAdjust="spacingAndGlyphs">E</tspan></text>
<text transform="translate(0,1236.8) scale(1.04,1)"><tspan class="hl" x="682.0 712.5 743.1">105</tspan><tspan class="hd" x="769.5" dy="3.6" textLength="22.4" lengthAdjust="spacingAndGlyphs">°</tspan><tspan class="hs" x="794.5" dy="-3.6" textLength="28.6" lengthAdjust="spacingAndGlyphs">E</tspan></text>
<text transform="translate(0,1236.8) scale(1.04,1)"><tspan class="hl" x="861.4 892.0 922.5">110</tspan><tspan class="hd" x="948.9" dy="3.6" textLength="22.4" lengthAdjust="spacingAndGlyphs">°</tspan><tspan class="hs" x="973.9" dy="-3.6" textLength="28.6" lengthAdjust="spacingAndGlyphs">E</tspan></text>
<text transform="translate(0,1236.8) scale(1.04,1)"><tspan class="hl" x="1040.8 1071.4 1102.0">115</tspan><tspan class="hd" x="1128.3" dy="3.6" textLength="22.4" lengthAdjust="spacingAndGlyphs">°</tspan><tspan class="hs" x="1153.3" dy="-3.6" textLength="28.6" lengthAdjust="spacingAndGlyphs">E</tspan></text>
<text transform="translate(0,1236.8) scale(1.04,1)"><tspan class="hl" x="1220.3 1250.8 1281.4">120</tspan><tspan class="hd" x="1307.8" dy="3.6" textLength="22.4" lengthAdjust="spacingAndGlyphs">°</tspan><tspan class="hs" x="1332.8" dy="-3.6" textLength="28.6" lengthAdjust="spacingAndGlyphs">E</tspan></text>
<text transform="translate(0,1236.8) scale(1.04,1)"><tspan class="hl" x="1399.7 1430.3 1460.8">125</tspan><tspan class="hd" x="1487.2" dy="3.6" textLength="22.4" lengthAdjust="spacingAndGlyphs">°</tspan><tspan class="hs" x="1512.2" dy="-3.6" textLength="28.6" lengthAdjust="spacingAndGlyphs">E</tspan></text>
<text transform="translate(0,1236.8) scale(1.04,1)"><tspan class="hl" x="1579.1 1609.7 1640.3">130</tspan><tspan class="hd" x="1666.6" dy="3.6" textLength="22.4" lengthAdjust="spacingAndGlyphs">°</tspan><tspan class="hs" x="1691.6" dy="-3.6" textLength="28.6" lengthAdjust="spacingAndGlyphs">E</tspan></text>
<text transform="translate(0,1236.8) scale(1.04,1)"><tspan class="hl" x="1758.6 1789.1 1819.7">135</tspan><tspan class="hd" x="1846.1" dy="3.6" textLength="22.4" lengthAdjust="spacingAndGlyphs">°</tspan><tspan class="hs" x="1871.1" dy="-3.6" textLength="28.6" lengthAdjust="spacingAndGlyphs">E</tspan></text>
<rect x="449.9" y="1302.5" width="149.7" height="37.5" fill="#0560D5" shape-rendering="crispEdges"/>
<rect x="599.0" y="1302.5" width="149.7" height="37.5" fill="#0482F3" shape-rendering="crispEdges"/>
<rect x="748.2" y="1302.5" width="149.7" height="37.5" fill="#02A5F5" shape-rendering="crispEdges"/>
<rect x="897.4" y="1302.5" width="149.7" height="37.5" fill="#73D2FC" shape-rendering="crispEdges"/>
<rect x="1046.5" y="1302.5" width="149.7" height="37.5" fill="#FFC029" shape-rendering="crispEdges"/>
<rect x="1195.7" y="1302.5" width="149.7" height="37.5" fill="#FF6203" shape-rendering="crispEdges"/>
<rect x="1344.8" y="1302.5" width="149.7" height="37.5" fill="#FE0D03" shape-rendering="crispEdges"/>
<rect x="1493.9" y="1302.5" width="149.7" height="37.5" fill="#C30000" shape-rendering="crispEdges"/>
<text class="cb" transform="translate(599.0,1376.8) scale(1.098,1)">−1.5</text>
<text class="cb" transform="translate(748.2,1376.8) scale(1.098,1)">−1</text>
<text class="cb" transform="translate(897.4,1376.8) scale(1.098,1)">−0.5</text>
<text class="cb" transform="translate(1046.5,1376.8) scale(1.098,1)">0</text>
<text class="cb" transform="translate(1195.7,1376.8) scale(1.098,1)">0.5</text>
<text class="cb" transform="translate(1344.8,1376.8) scale(1.098,1)">1</text>
<text class="cb" transform="translate(1493.9,1376.8) scale(1.098,1)">1.5</text>
</svg>
</body></html>
